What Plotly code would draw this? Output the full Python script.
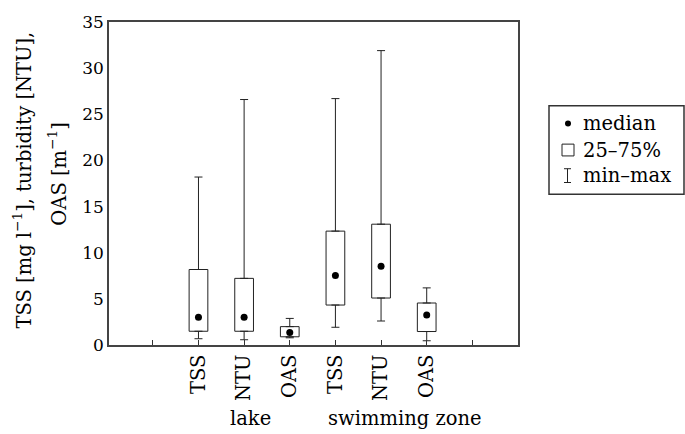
import plotly.graph_objects as go

categories = ["TSS", "NTU", "OAS", "TSS", "NTU", "OAS"]
groups = ["lake", "swimming zone"]
positions = [2, 3, 4, 5, 6, 7]
edge_ticks = [1, 8]
q1 = [1.49, 1.49, 0.89, 4.33, 5.09, 1.46]
q3 = [8.18, 7.22, 1.99, 12.34, 13.09, 4.55]
median = [3.02, 3.02, 1.35, 7.54, 8.54, 3.24]
vmin = [0.68, 0.57, 0.78, 1.92, 2.60, 0.46]
vmax = [18.2, 26.6, 2.88, 26.7, 31.9, 6.19]
yticks = [0, 5, 10, 15, 20, 25, 30, 35]

FONT = "DejaVu Serif"
FS = 19.5
W, H = 685, 434
L, R, T, B = 109, 167, 17, 89

fig = go.Figure()

# upper whiskers
fig.add_trace(go.Scatter(
    x=positions, y=q3, mode="markers", marker=dict(size=0.1, color="rgba(0,0,0,0)"),
    error_y=dict(type="data", symmetric=False,
                 array=[a - b for a, b in zip(vmax, q3)],
                 arrayminus=[0] * len(q3), color="#222", thickness=1, width=4),
    showlegend=False, hoverinfo="skip"))
# lower whiskers
fig.add_trace(go.Scatter(
    x=positions, y=q1, mode="markers", marker=dict(size=0.1, color="rgba(0,0,0,0)"),
    error_y=dict(type="data", symmetric=False,
                 array=[0] * len(q1),
                 arrayminus=[a - b for a, b in zip(q1, vmin)], color="#222", thickness=1, width=4),
    showlegend=False, hoverinfo="skip"))
# boxes
fig.add_trace(go.Bar(
    x=positions, base=q1, y=[a - b for a, b in zip(q3, q1)], width=0.41,
    marker=dict(color="white", line=dict(color="#222", width=1)),
    showlegend=False, hoverinfo="skip"))
# medians
fig.add_trace(go.Scatter(
    x=positions, y=median, mode="markers",
    marker=dict(size=7, color="black"), showlegend=False))

fig.update_layout(
    width=W, height=H, margin=dict(l=L, r=R, t=T, b=B),
    paper_bgcolor="white", plot_bgcolor="white",
    font=dict(family=FONT, size=FS, color="#000"),
    barmode="overlay",
)
fig.update_xaxes(
    range=[0.04, 9.0], tickmode="array", tickvals=positions,
    ticktext=categories, tickangle=-90,
    tickfont=dict(size=FS),
    ticks="inside", ticklen=5, tickcolor="#333",
    minor=dict(tickmode="array", tickvals=edge_ticks, ticks="inside",
               ticklen=5, tickcolor="#333", showgrid=False),
    showline=True, linecolor="#444", linewidth=1.5, mirror=True,
    showgrid=False, zeroline=False,
)
fig.update_yaxes(
    range=[0, 35], tickvals=yticks, ticks="",
    tickfont=dict(size=17),
    showline=True, linecolor="#444", linewidth=1.5, mirror=True,
    showgrid=False, zeroline=False,
)

def px(x):
    return (x - L) / (W - L - R)

def py(y):
    return (H - B - y) / (H - B - T)

# y-axis title (two lines)
fig.add_annotation(x=px(22), y=py(178), xref="paper", yref="paper",
                   text="TSS [mg l<sup>−1</sup>], turbidity [NTU],",
                   textangle=-90, showarrow=False, xanchor="center", yanchor="middle")
fig.add_annotation(x=px(57), y=py(172), xref="paper", yref="paper",
                   text="OAS [m<sup>−1</sup>]",
                   textangle=-90, showarrow=False, xanchor="center", yanchor="middle")

# group labels
fig.add_annotation(x=px(250), y=py(420), xref="paper", yref="paper", text=groups[0],
                   showarrow=False, xanchor="center", yanchor="middle")
fig.add_annotation(x=px(405), y=py(420), xref="paper", yref="paper", text=groups[1],
                   showarrow=False, xanchor="center", yanchor="middle")

# legend box
fig.add_shape(type="rect", xref="paper", yref="paper",
              x0=px(549), x1=px(684), y0=py(192), y1=py(102),
              line=dict(color="#333", width=1.5), fillcolor="white")
fig.add_shape(type="circle", xref="paper", yref="paper",
              x0=px(565), x1=px(571), y0=py(123), y1=py(117),
              line=dict(color="black", width=0), fillcolor="black")
fig.add_shape(type="rect", xref="paper", yref="paper",
              x0=px(562), x1=px(574), y0=py(153), y1=py(141),
              line=dict(color="#222", width=1))
for (xa, xb, ya, yb) in [(567.5, 567.5, 166, 180), (564, 571, 166, 166), (564, 571, 180, 180)]:
    fig.add_shape(type="line", xref="paper", yref="paper",
                  x0=px(xa), x1=px(xb), y0=py(ya), y1=py(yb),
                  line=dict(color="#222", width=1))
for txt, yy in [("median", 120), ("25–75%", 147), ("min–max", 173)]:
    fig.add_annotation(x=px(581), y=py(yy), xref="paper", yref="paper", text=txt,
                       showarrow=False, xanchor="left", yanchor="middle")

fig.write_html("out.html", config={"displayModeBar": False},
               post_script="document.body.style.margin='0';document.body.style.overflow='hidden';")
